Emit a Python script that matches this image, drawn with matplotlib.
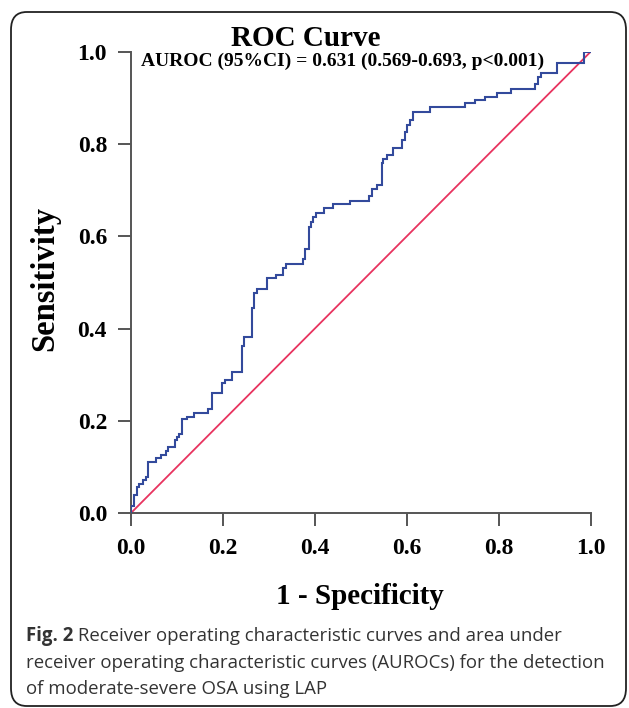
import matplotlib
matplotlib.use("Agg")
import matplotlib.pyplot as plt
from matplotlib.patches import FancyBboxPatch
import numpy as np

# ROC step curve vertices (1 - specificity, sensitivity)
fpr = [0.0, 0.0, 0.008, 0.013, 0.018, 0.027, 0.033, 0.038, 0.054, 0.066, 0.076,
       0.082, 0.096, 0.101, 0.105, 0.111, 0.122, 0.138, 0.169, 0.176, 0.199,
       0.205, 0.221, 0.243, 0.247, 0.263, 0.268, 0.274, 0.296, 0.316, 0.332,
       0.338, 0.375, 0.379, 0.388, 0.393, 0.397, 0.403, 0.420, 0.440, 0.477,
       0.519, 0.524, 0.535, 0.546, 0.549, 0.558, 0.571, 0.589, 0.596, 0.600,
       0.607, 0.614, 0.651, 0.727, 0.748, 0.770, 0.796, 0.826, 0.879, 0.886,
       0.891, 0.926, 0.985, 1.0]
tpr = [0.0, 0.016, 0.040, 0.056, 0.063, 0.072, 0.079, 0.112, 0.120, 0.127, 0.136,
       0.144, 0.159, 0.165, 0.172, 0.204, 0.209, 0.218, 0.225, 0.260, 0.282,
       0.289, 0.307, 0.362, 0.381, 0.444, 0.478, 0.485, 0.509, 0.516, 0.531,
       0.541, 0.550, 0.572, 0.621, 0.632, 0.642, 0.651, 0.661, 0.669, 0.677,
       0.687, 0.702, 0.711, 0.758, 0.767, 0.776, 0.791, 0.809, 0.827, 0.841,
       0.852, 0.870, 0.881, 0.888, 0.895, 0.902, 0.911, 0.920, 0.931, 0.946,
       0.953, 0.975, 1.0, 1.0]
ref_line = [0.0, 1.0]
ticks = [0.0, 0.2, 0.4, 0.6, 0.8, 1.0]
tick_labels = ["0.0", "0.2", "0.4", "0.6", "0.8", "1.0"]

title = "ROC Curve"
auroc_text = "AUROC (95%CI) = 0.631 (0.569-0.693, p<0.001)"
xlabel = "1 - Specificity"
ylabel = "Sensitivity"
cap_bold = "Fig. 2"
cap_lines = [" Receiver operating characteristic curves and area under",
             "receiver operating characteristic curves (AUROCs) for the detection",
             "of moderate-severe OSA using LAP"]

W, H = 629, 708
fig = plt.figure(figsize=(W / 100, H / 100), dpi=100)

def fx(px):
    return px / W

def fy(py):
    return 1 - py / H

serif = ["Liberation Serif", "DejaVu Serif"]

# rounded frame
frame = FancyBboxPatch((fx(11), fy(706)), fx(626) - fx(11), fy(12) - fy(706),
                       boxstyle="round,pad=0,rounding_size=0.025",
                       transform=fig.transFigure, fill=False,
                       edgecolor="#222222", linewidth=1.3)
fig.patches.append(frame)

ax = fig.add_axes([fx(130.7), fy(513.3), (590.7 - 130.7) / W, (513.3 - 51.7) / H])
ax.plot(fpr, tpr, drawstyle="steps-post", color="#334a9c", linewidth=1.5,
        solid_joinstyle="miter", zorder=3)
ax.plot(ref_line, ref_line, color="#e8335f", linewidth=1.3, zorder=2)
ax.set_xlim(0, 1)
ax.set_ylim(0, 1)
for s in ["top", "right"]:
    ax.spines[s].set_visible(False)
for s in ["left", "bottom"]:
    ax.spines[s].set_color("#555555")
    ax.spines[s].set_linewidth(1.4)
ax.set_xticks(ticks)
ax.set_yticks(ticks)
ax.set_xticklabels(tick_labels, fontfamily=serif, fontweight="bold", fontsize=17)
ax.set_yticklabels(tick_labels, fontfamily=serif, fontweight="bold", fontsize=17)
ax.tick_params(direction="out", length=9.5, width=1.4, color="#555555", pad=7.5)
ax.tick_params(axis="x", pad=8.5)
ax.patch.set_alpha(0)

fig.text(fx(306), fy(38), title, fontfamily=serif, fontweight="bold",
         fontsize=21, ha="center", va="center")
fig.text(fx(141), fy(61), auroc_text, fontfamily=serif, fontweight="bold",
         fontsize=14, ha="left", va="center", zorder=1)
fig.text(fx(360), fy(596), xlabel, fontfamily=serif, fontweight="bold",
         fontsize=21, ha="center", va="center")
fig.text(fx(45), fy(278), ylabel, fontfamily=serif, fontweight="bold",
         fontsize=23.5, ha="center", va="center", rotation=90)

sans = ["Open Sans", "DejaVu Sans"]
cap_color = "#333333"
cap_size = 13.4
t = fig.text(fx(26), fy(636), cap_bold, fontfamily=sans, fontweight="bold",
             fontsize=cap_size, ha="left", va="center", color=cap_color)
fig.canvas.draw()
bb = t.get_window_extent()
fig.text(bb.x1 / W, fy(636), cap_lines[0], fontfamily=sans, fontsize=cap_size,
         ha="left", va="center", color=cap_color)
fig.text(fx(26), fy(663), cap_lines[1], fontfamily=sans, fontsize=cap_size,
         ha="left", va="center", color=cap_color)
fig.text(fx(26), fy(689), cap_lines[2], fontfamily=sans, fontsize=cap_size,
         ha="left", va="center", color=cap_color)

fig.savefig("out.png", dpi=100)
